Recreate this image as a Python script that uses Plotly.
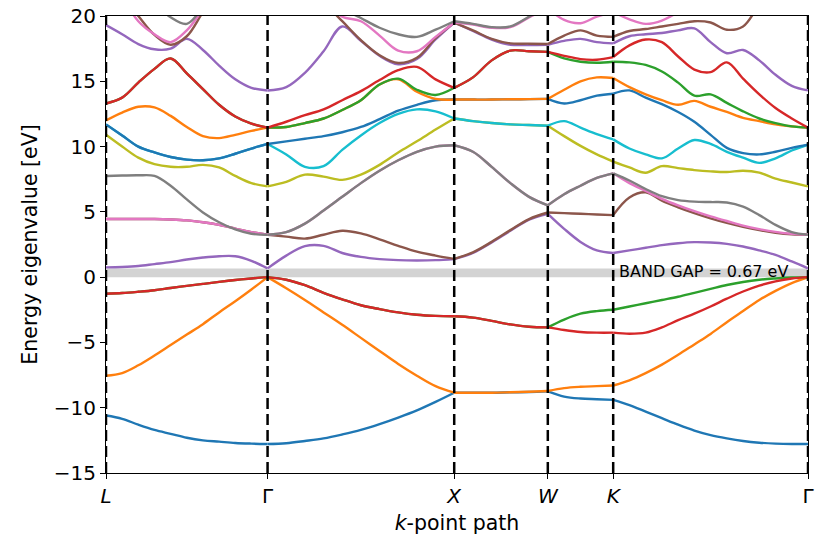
import numpy as np
import plotly.graph_objects as go

# High-symmetry points along the FCC k-path
kpath_labels = ["<i>L</i>", "Γ", "<i>X</i>", "<i>W</i>", "<i>K</i>", "Γ"]
kpath_positions = [0.0, 0.870, 1.875, 2.379, 2.731, 3.780]
# number of k-samples in each segment: L-Γ, Γ-X, X-W, W-K, K-Γ
segment_npoints = [11, 11, 6, 5, 13]

band_gap = 0.67  # eV

# Band energies (eV), segments concatenated in path order
band_01 = [-10.6, -10.85, -11.3, -11.7, -12.0, -12.3, -12.5, -12.6, -12.7, -12.75, -12.78,
           -12.78, -12.72, -12.55, -12.35, -12.05, -11.7, -11.25, -10.75, -10.2, -9.55, -8.85,
           -8.85, -8.85, -8.85, -8.82, -8.8, -8.75,
           -8.75, -9.15, -9.3, -9.35, -9.4,
           -9.4, -9.8, -10.3, -10.8, -11.3, -11.75, -12.1, -12.35, -12.55, -12.68, -12.75, -12.78, -12.78]
band_02 = [-7.55, -7.35, -6.75, -6.0, -5.2, -4.4, -3.6, -2.7, -1.85, -0.95, 0.0,
           0.0, -0.85, -1.75, -2.7, -3.65, -4.65, -5.65, -6.65, -7.55, -8.35, -8.85,
           -8.85, -8.85, -8.85, -8.82, -8.78, -8.72,
           -8.72, -8.5, -8.4, -8.35, -8.3,
           -8.3, -7.9, -7.35, -6.7, -5.95, -5.15, -4.35, -3.45, -2.6, -1.75, -1.05, -0.45, 0.0]
band_03 = [-1.27, -1.22, -1.12, -1.0, -0.83, -0.67, -0.52, -0.36, -0.22, -0.1, 0.0,
           0.0, -0.2, -0.62, -1.2, -1.7, -2.15, -2.45, -2.7, -2.88, -2.97, -3.0,
           -3.0, -3.1, -3.35, -3.62, -3.8, -3.85,
           -3.85, -3.25, -2.8, -2.6, -2.5,
           -2.5, -2.25, -2.0, -1.75, -1.5, -1.2, -0.9, -0.6, -0.37, -0.2, -0.1, -0.03, 0.0]
band_04 = [-1.27, -1.22, -1.12, -1.0, -0.83, -0.67, -0.52, -0.36, -0.22, -0.1, 0.0,
           0.0, -0.2, -0.62, -1.2, -1.7, -2.15, -2.45, -2.7, -2.88, -2.97, -3.0,
           -3.0, -3.1, -3.35, -3.62, -3.8, -3.85,
           -3.85, -4.05, -4.2, -4.25, -4.25,
           -4.25, -4.33, -4.25, -3.85, -3.3, -2.8, -2.25, -1.65, -1.1, -0.65, -0.32, -0.1, 0.0]
band_05 = [0.75, 0.78, 0.85, 1.0, 1.15, 1.35, 1.5, 1.6, 1.6, 1.25, 0.67,
           0.67, 1.65, 2.38, 2.4, 1.85, 1.55, 1.38, 1.3, 1.28, 1.3, 1.38,
           1.38, 1.85, 2.65, 3.55, 4.4, 4.85,
           4.85, 3.7, 2.7, 2.05, 1.85,
           1.85, 2.05, 2.25, 2.45, 2.6, 2.68, 2.65, 2.55, 2.35, 2.05, 1.7, 1.2, 0.67]
band_06 = [4.45, 4.45, 4.45, 4.45, 4.42, 4.35, 4.2, 4.0, 3.72, 3.45, 3.25,
           3.25, 3.1, 2.95, 3.25, 3.55, 3.35, 2.9, 2.4, 1.95, 1.65, 1.4,
           1.4, 1.9, 2.7, 3.6, 4.45, 4.95,
           4.95, 4.9, 4.85, 4.8, 4.75,
           4.75, 6.1, 6.5, 5.85, 5.35, 4.9, 4.5, 4.15, 3.85, 3.6, 3.4, 3.28, 3.25]
band_07 = [4.45, 4.45, 4.45, 4.45, 4.42, 4.35, 4.2, 4.0, 3.72, 3.45, 3.25,
           3.25, 3.45, 4.1, 5.1, 6.15, 7.2, 8.15, 8.95, 9.6, 10.0, 10.1,
           10.1, 9.6, 8.45, 7.2, 6.15, 5.5,
           5.5, 6.35, 7.0, 7.6, 7.95,
           7.95, 7.2, 6.6, 6.0, 5.5, 5.05, 4.65, 4.3, 3.95, 3.68, 3.47, 3.32, 3.25]
band_08 = [7.75, 7.78, 7.8, 7.75, 7.0, 5.95, 4.95, 4.2, 3.65, 3.32, 3.25,
           3.25, 3.45, 4.1, 5.1, 6.15, 7.2, 8.15, 8.95, 9.6, 10.0, 10.1,
           10.1, 9.6, 8.45, 7.2, 6.15, 5.5,
           5.5, 6.35, 7.0, 7.6, 7.95,
           7.95, 7.4, 6.75, 6.2, 5.9, 5.78, 5.75, 5.72, 5.4, 4.75, 4.0, 3.45, 3.25]
band_09 = [10.9, 10.0, 9.15, 8.65, 8.45, 8.45, 8.6, 8.4, 7.75, 7.2, 6.95,
           6.95, 7.3, 7.85, 7.7, 7.45, 7.85, 8.6, 9.55, 10.4, 11.3, 12.15,
           12.15, 11.95, 11.8, 11.7, 11.65, 11.6,
           11.6, 10.8, 10.05, 9.4, 8.85,
           8.85, 8.4, 8.0, 8.5, 8.35, 8.2, 8.1, 8.05, 8.15, 8.0, 7.55, 7.25, 6.95]
band_10 = [11.7, 10.85, 10.0, 9.55, 9.2, 9.0, 8.95, 9.1, 9.45, 9.85, 10.2,
           10.2, 9.4, 8.45, 8.5, 9.75, 10.85, 11.8, 12.5, 12.85, 12.7, 12.15,
           12.15, 11.95, 11.8, 11.7, 11.65, 11.6,
           11.6, 11.95, 11.45, 10.95, 10.55,
           10.55, 9.85, 9.4, 9.1, 9.85, 10.5, 10.2, 9.6, 9.15, 8.75, 9.1, 9.7, 10.15]
band_11 = [11.7, 10.85, 10.0, 9.55, 9.2, 9.0, 8.95, 9.1, 9.45, 9.85, 10.2,
           10.2, 10.4, 10.6, 10.8, 11.1, 11.5, 12.1, 12.75, 13.2, 13.55, 13.6,
           13.6, 13.6, 13.6, 13.62, 13.63, 13.65,
           13.65, 13.3, 13.55, 13.9, 14.05,
           14.05, 14.3, 13.75, 13.25, 12.65, 11.9, 10.9, 9.9, 9.5, 9.4, 9.6, 9.9, 10.15]
band_12 = [12.0, 12.6, 13.05, 13.0, 12.35, 11.5, 10.8, 10.65, 10.9, 11.2, 11.45,
           11.45, 11.5, 11.8, 12.15, 12.8, 13.55, 14.75, 15.15, 14.2, 13.65, 13.6,
           13.6, 13.6, 13.6, 13.62, 13.63, 13.65,
           13.65, 14.35, 15.0, 15.3, 15.25,
           15.25, 14.55, 14.0, 13.55, 13.2, 13.5, 13.05, 12.65, 12.2, 11.95, 11.7, 11.55, 11.45]
band_13 = [13.3, 13.75, 14.9, 15.95, 16.75, 15.6, 14.4, 13.2, 12.3, 11.75, 11.45,
           11.45, 11.5, 11.8, 12.15, 12.8, 13.55, 14.75, 15.2, 14.35, 13.95, 14.5,
           14.5, 15.3, 16.6, 17.35, 17.3, 17.25,
           17.25, 16.75, 16.5, 16.42, 16.5,
           16.5, 16.45, 16.25, 15.75, 14.9, 13.9, 14.0, 13.35, 12.7, 12.15, 11.8, 11.55, 11.45]
band_14 = [13.3, 13.75, 14.9, 15.95, 16.75, 15.6, 14.4, 13.2, 12.3, 11.75, 11.45,
           11.45, 11.9, 12.4, 12.85, 13.55, 14.25, 15.1, 15.85, 16.1, 15.15, 14.5,
           14.5, 15.3, 16.6, 17.35, 17.3, 17.25,
           17.25, 16.95, 16.7, 16.65, 16.85,
           16.85, 17.75, 18.2, 18.0, 16.9, 15.9, 15.7, 16.45, 15.2, 14.0, 12.95, 12.15, 11.45]
band_15 = [19.3, 18.6, 17.85, 17.45, 17.5, 18.25, 17.4, 16.2, 15.15, 14.5, 14.3,
           14.3, 14.55, 15.65, 17.3, 19.2, 18.1, 16.95, 16.3, 16.7, 18.2, 19.5,
           19.5, 18.85, 18.2, 17.8, 17.78, 17.8,
           17.8, 18.1, 18.25, 18.0, 17.9,
           17.9, 18.45, 18.6, 18.7, 18.9, 19.05, 18.0, 17.15, 17.4, 16.6, 15.5, 14.65, 14.3]
band_16 = [23.0, 21.5, 20.0, 18.55, 17.8, 18.45, 20.3, 22.0, 23.0, 23.5, 23.5,
           23.5, 22.8, 21.8, 21.0, 19.6, 18.15, 17.0, 16.4, 16.8, 18.3, 19.5,
           19.5, 18.9, 18.25, 17.9, 17.88, 17.85,
           17.85, 18.5, 18.9, 18.5, 18.4,
           18.4, 18.85, 19.0, 19.2, 19.4, 19.6, 19.5, 18.95, 19.2, 20.8, 21.8, 22.5, 23.0]
band_17 = [24.0, 21.5, 19.6, 18.6, 18.0, 18.9, 20.5, 22.0, 23.5, 24.0, 24.0,
           24.0, 23.5, 22.5, 21.2, 19.95, 19.6, 18.5, 17.35, 17.3, 18.4, 19.5,
           19.5, 19.35, 19.1, 19.15, 19.9, 20.6,
           20.6, 19.7, 19.45, 19.95, 20.3,
           20.3, 19.75, 19.4, 19.65, 20.3, 21.0, 21.5, 22.0, 22.5, 23.0, 23.5, 24.0, 24.0]
band_18 = [25.0, 24.0, 22.5, 21.0, 19.9, 19.4, 20.7, 22.5, 24.0, 25.0, 25.0,
           25.0, 24.5, 23.5, 22.0, 20.6, 19.85, 19.1, 18.6, 18.4, 18.95, 19.6,
           19.6, 19.4, 19.15, 19.2, 19.95, 20.8,
           20.8, 21.3, 21.5, 21.2, 21.0,
           21.0, 20.8, 20.7, 21.0, 21.5, 22.0, 22.5, 23.0, 23.5, 24.0, 24.5, 25.0, 25.0]

bands = [band_01, band_02, band_03, band_04, band_05, band_06, band_07, band_08, band_09,
         band_10, band_11, band_12, band_13, band_14, band_15, band_16, band_17, band_18]

palette = ["#1f77b4", "#ff7f0e", "#2ca02c", "#d62728", "#9467bd",
           "#8c564b", "#e377c2", "#7f7f7f", "#bcbd22", "#17becf"]

# k coordinates of the samples in each segment
segment_k = [np.linspace(kpath_positions[i], kpath_positions[i + 1], n)
             for i, n in enumerate(segment_npoints)]

fig = go.Figure()

for ib, energies in enumerate(bands):
    color = palette[ib % len(palette)]
    start = 0
    for kseg, n in zip(segment_k, segment_npoints):
        fig.add_trace(go.Scatter(
            x=kseg, y=energies[start:start + n], mode="lines",
            line=dict(color=color, width=2.4, shape="spline", smoothing=1.0),
            hoverinfo="skip", showlegend=False,
        ))
        start += n

# band gap region
fig.add_shape(type="rect", xref="paper", x0=0, x1=1, yref="y", y0=0, y1=band_gap,
              fillcolor="#d3d3d3", line=dict(width=0), layer="below")

# vertical markers at the high-symmetry points
for kp in kpath_positions:
    fig.add_shape(type="line", xref="x", x0=kp, x1=kp, yref="paper", y0=0, y1=1,
                  line=dict(color="black", width=2.5, dash="11px,5px"), layer="above")

fig.add_annotation(x=3.218, y=band_gap / 2, xref="x", yref="y",
                   text=f"BAND GAP = {band_gap:.2f} eV", showarrow=False,
                   xanchor="center", yanchor="middle", yshift=1,
                   font=dict(size=16, color="black", family="DejaVu Sans"))

axis_common = dict(
    showline=True, linecolor="black", linewidth=1.1, mirror=True,
    ticks="outside", ticklen=5, tickwidth=1.1, tickcolor="black",
    showgrid=False, zeroline=False,
    tickfont=dict(size=20, color="black", family="DejaVu Sans"),
)

fig.update_xaxes(range=[kpath_positions[0], kpath_positions[-1]],
                 tickvals=kpath_positions, ticktext=kpath_labels,
                 title=dict(text="<i>k</i>-point path", standoff=8,
                            font=dict(size=20.5, color="black", family="DejaVu Sans")),
                 **axis_common)
fig.update_yaxes(range=[-15, 20], tickvals=[-15, -10, -5, 0, 5, 10, 15, 20],
                 title=dict(text="Energy eigenvalue [eV]", standoff=10,
                            font=dict(size=20.5, color="black", family="DejaVu Sans")),
                 **axis_common)

fig.update_layout(
    width=815, height=537,
    margin=dict(l=106, r=7, t=16, b=64, autoexpand=False),
    paper_bgcolor="white", plot_bgcolor="white",
    showlegend=False,
    font=dict(family="DejaVu Sans", color="black"),
)

fig.write_html("out.html")
